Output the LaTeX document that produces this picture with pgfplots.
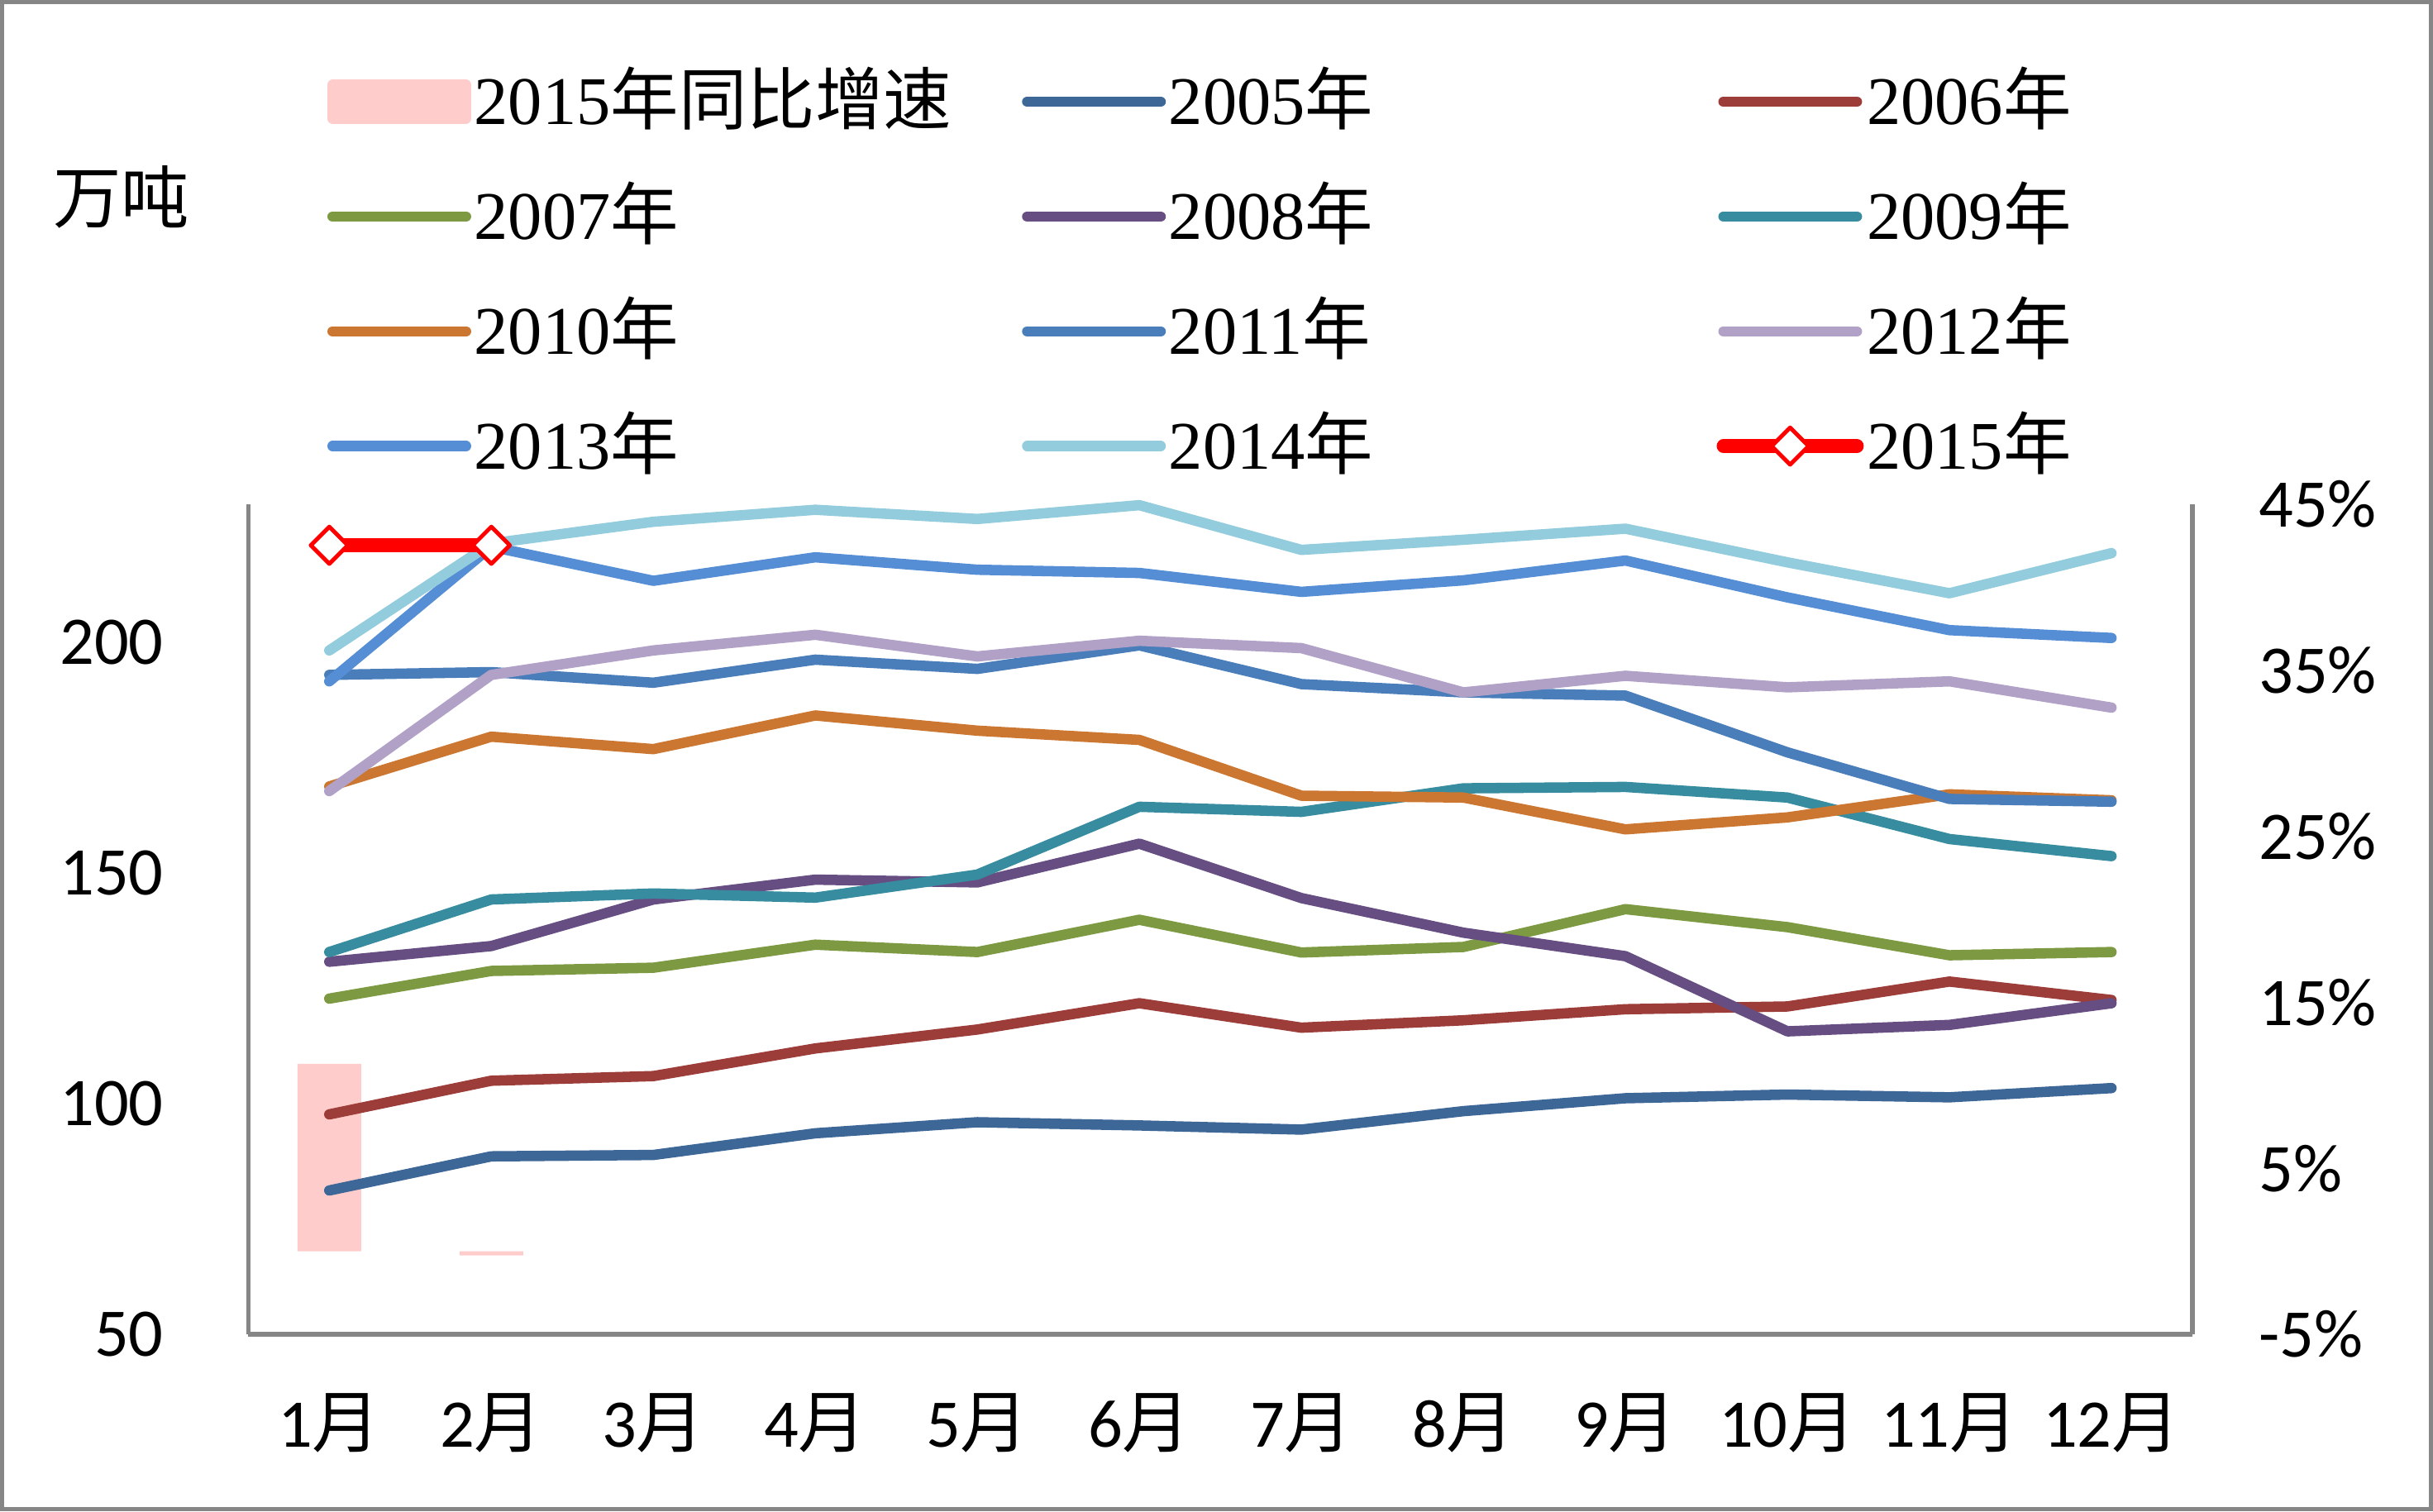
\documentclass[border=0pt]{standalone}
\usepackage{pgfplots}
\pgfplotsset{compat=1.18}
\usepackage{fontspec}
\setmainfont{Liberation Serif}
\newfontfamily\cjk{Noto Sans CJK SC}
\newfontfamily\carl{Carlito}
\definecolor{axisgray}{RGB}{134,134,134}
\definecolor{c05}{RGB}{61,103,151}
\definecolor{c06}{RGB}{157,61,58}
\definecolor{c07}{RGB}{125,154,66}
\definecolor{c08}{RGB}{102,78,131}
\definecolor{c09}{RGB}{55,140,159}
\definecolor{c10}{RGB}{204,119,49}
\definecolor{c11}{RGB}{74,126,187}
\definecolor{c12}{RGB}{178,161,199}
\definecolor{c13}{RGB}{85,142,213}
\definecolor{c14}{RGB}{147,205,221}
\definecolor{barpink}{RGB}{255,204,204}
\newcommand\yr[1]{\makebox[3.53cm][l]{#1{\cjk 年}}}
\newcommand\mo[1]{#1{\cjk 月}}
\newcommand\fs{\fontsize{12.5}{15}\selectfont}
\pgfplotsset{
  common/.style={
    scale only axis, width=12.53cm, height=5.35cm,
    at={(1.60cm,1.14cm)}, anchor=south west,
    xmin=0.5, xmax=12.5,
    clip=false,
    axis line style={-, draw=axisgray, line width=0.8pt},
    major tick length=0pt,
    tick style={draw=none},
  }
}
\begin{document}
\begin{tikzpicture}
\useasboundingbox (0,0) rectangle (15.68cm,9.74cm);
\draw[axisgray, line width=0.75pt] (0.0132cm,0.0132cm) rectangle (15.6668cm,9.7268cm);
\begin{axis}[common,
  axis x line=none, axis y line*=right,
  ymin=-5, ymax=45,
  ytick={-5,5,15,25,35,45},
  yticklabels={-5\%,5\%,15\%,25\%,35\%,45\%},
  yticklabel style={font=\fs\carl, anchor=west, inner sep=0pt, xshift=0.42cm},
  ybar, bar width=0.41cm,
]
\addplot[fill=barpink, draw=none] coordinates {(1,11.3) (2,-0.25)};
\end{axis}
\begin{axis}[common,
  axis x line*=bottom, axis y line*=left,
  ymin=50, ymax=230,
  ytick={50,100,150,200}, yticklabels={50,100,150,200},
  yticklabel style={font=\fs\carl, anchor=east, inner sep=0pt, xshift=-0.54cm},
  xtick={1,2,3,4,5,6,7,8,9,10,11,12},
  xticklabels={\mo1,\mo2,\mo3,\mo4,\mo5,\mo6,\mo7,\mo8,\mo9,\mo{10},\mo{11},\mo{12}},
  xticklabel style={font=\fs\carl, anchor=north, inner sep=0pt, yshift=-0.376cm},
  ylabel={万吨},
  every axis y label/.style={at={(axis description cs:-0.0654,1.370)}, anchor=center, font=\fs\cjk},
  legend columns=3,
  legend cell align=left,
  legend image code/.code={\draw[mark repeat=2,mark phase=2,#1] plot coordinates {(0cm,0cm) (0.43cm,0cm) (0.86cm,0cm)};},
  legend style={at={(0.0407,1.5121)}, anchor=north west, draw=none, fill=none,
    inner sep=0pt, outer sep=0pt, font=\fs,
    nodes={inner sep=0pt, text height=8.3pt, text depth=0pt},
    /tikz/row sep=0.448cm,
    /tikz/every odd column/.append style={column sep=0.02cm}},
  every axis plot/.append style={line width=1.9pt, line cap=round, line join=round},
]
\addlegendimage{legend image code/.code={\fill[barpink] (0cm,-0.109cm) rectangle (0.86cm,0.109cm);}}
\addlegendentry{\makebox[3.53cm][l]{2015{\cjk 年同比增速}}}
\addplot[c05] coordinates {(1,81.2) (2,88.6) (3,88.9) (4,93.6) (5,96.0) (6,95.3) (7,94.4) (8,98.4) (9,101.2) (10,102.0) (11,101.4) (12,103.4)};
\addlegendentry{\yr{2005}}
\addplot[c06] coordinates {(1,97.7) (2,105.0) (3,106.0) (4,112.0) (5,116.1) (6,121.8) (7,116.5) (8,118.1) (9,120.5) (10,121.1) (11,126.5) (12,122.5)};
\addlegendentry{\yr{2006}}
\addplot[c07] coordinates {(1,122.8) (2,128.8) (3,129.5) (4,134.5) (5,132.9) (6,139.9) (7,132.8) (8,134.0) (9,142.2) (10,138.3) (11,132.2) (12,132.9)};
\addlegendentry{\yr{2007}}
\addplot[c08] coordinates {(1,130.8) (2,134.2) (3,144.3) (4,148.6) (5,148.0) (6,156.4) (7,144.6) (8,137.1) (9,132.0) (10,115.7) (11,117.1) (12,121.8)};
\addlegendentry{\yr{2008}}
\addplot[c09] coordinates {(1,132.9) (2,144.3) (3,145.6) (4,144.7) (5,149.7) (6,164.4) (7,163.3) (8,168.4) (9,168.7) (10,166.4) (11,157.4) (12,153.7)};
\addlegendentry{\yr{2009}}
\addplot[c10] coordinates {(1,168.8) (2,179.6) (3,176.9) (4,184.2) (5,180.9) (6,178.9) (7,166.8) (8,166.4) (9,159.5) (10,162.1) (11,167.1) (12,165.8)};
\addlegendentry{\yr{2010}}
\addplot[c11] coordinates {(1,193.0) (2,193.6) (3,191.3) (4,196.3) (5,194.3) (6,199.4) (7,191.0) (8,189.2) (9,188.5) (10,176.2) (11,166.1) (12,165.5)};
\addlegendentry{\yr{2011}}
\addplot[c12] coordinates {(1,167.8) (2,193.0) (3,198.3) (4,201.7) (5,197.0) (6,200.4) (7,198.8) (8,189.2) (9,192.8) (10,190.3) (11,191.6) (12,185.9)};
\addlegendentry{\yr{2012}}
\addplot[c13] coordinates {(1,191.6) (2,220.8) (3,213.4) (4,218.5) (5,215.8) (6,215.1) (7,211.0) (8,213.5) (9,217.8) (10,209.8) (11,202.7) (12,201.0)};
\addlegendentry{\yr{2013}}
\addplot[c14] coordinates {(1,198.3) (2,221.5) (3,226.2) (4,228.8) (5,226.8) (6,229.8) (7,220.1) (8,222.3) (9,224.7) (10,217.4) (11,210.7) (12,219.4)};
\addlegendentry{\yr{2014}}
\addplot[red, line width=2.5pt, mark=square*, mark size=2.4pt, mark options={rotate=45, fill=white, draw=red, line width=0.75pt}] coordinates {(1,221.1) (2,221.1)};
\addlegendentry{\yr{2015}}
\end{axis}
\end{tikzpicture}
\end{document}
